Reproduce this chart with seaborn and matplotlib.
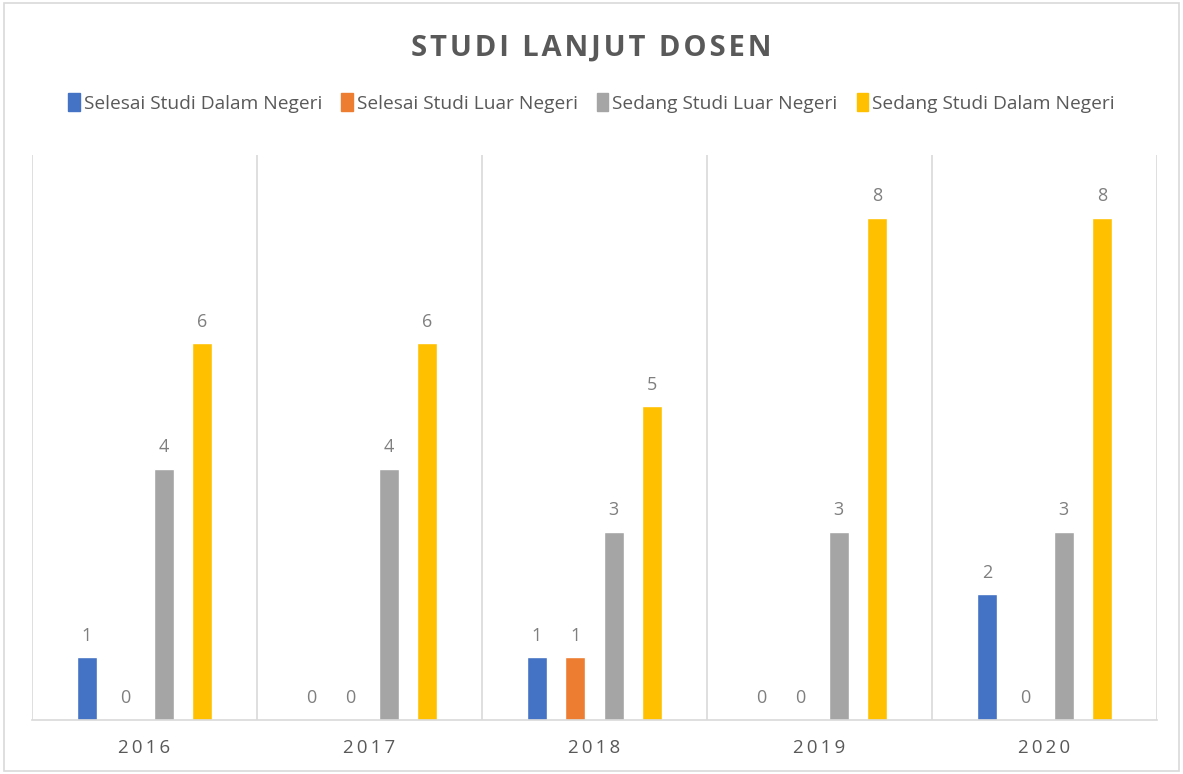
import matplotlib
matplotlib.use("Agg")
import matplotlib.pyplot as plt
import seaborn as sns
import pandas as pd

# data
years = ["2016", "2017", "2018", "2019", "2020"]
series = ["Selesai Studi Dalam Negeri", "Selesai Studi Luar Negeri",
          "Sedang Studi Luar Negeri", "Sedang Studi Dalam Negeri"]
selesai_dalam = [1, 0, 1, 0, 2]
selesai_luar = [0, 0, 1, 0, 0]
sedang_luar = [4, 4, 3, 3, 3]
sedang_dalam = [6, 6, 5, 8, 8]
colors = ["#4472C4", "#ED7D31", "#A5A5A5", "#FFC000"]

rows = []
for name, vals in zip(series, [selesai_dalam, selesai_luar, sedang_luar, sedang_dalam]):
    for y, v in zip(years, vals):
        rows.append({"Tahun": y, "Status": name, "Jumlah": v})
df = pd.DataFrame(rows)

sns.set_style("white")
plt.rcParams["font.family"] = ["Open Sans", "DejaVu Sans"]

fig = plt.figure(figsize=(11.83, 7.74), dpi=100)
ax = fig.add_axes([0.027, 0.0698, 0.951, 0.73])

sns.barplot(data=df, x="Tahun", y="Jumlah", hue="Status", hue_order=series,
            order=years, palette=colors, width=0.684, gap=0.48,
            saturation=1, legend=False, ax=ax)

for cont in ax.containers:
    ax.bar_label(cont, fmt="%d", padding=9, fontsize=13, color="#7F7F7F")

ax.set_ylim(0, 9)
ax.set_xlim(-0.5, 4.5)
ax.set_yticks([])
ax.set_xlabel("")
ax.set_ylabel("")
ax.set_xticks(range(len(years)))
ax.set_xticklabels(["\u2009".join(y) for y in years], fontsize=13.5, color="#595959")
ax.tick_params(axis="x", length=0, pad=14)
ax.set_xticks([i - 0.5 for i in range(len(years) + 1)], minor=True)
ax.tick_params(axis="x", which="minor", length=0)
ax.grid(which="minor", axis="x", color="#D9D9D9", linewidth=1.2)
ax.set_axisbelow(True)
for s in ["left", "right", "top"]:
    ax.spines[s].set_visible(False)
ax.spines["bottom"].set_color("#D9D9D9")
ax.spines["bottom"].set_linewidth(1.2)

handles = [plt.Rectangle((0, 0), 1, 1, color=c) for c in colors]
fig.legend(handles, series, loc="center", bbox_to_anchor=(0.5, 0.867), ncol=4,
           frameon=False, fontsize=13.8, handlelength=0.6, handleheight=1.1,
           handletextpad=0.2, columnspacing=1.0, labelcolor="#595959")

fig.text(0.5, 0.938, "\u200a".join("STUDI LANJUT DOSEN"), ha="center", va="center",
         fontsize=21, fontweight="bold", color="#595959")

fig.patches.append(plt.Rectangle((0.003, 0.004), 0.994, 0.992, transform=fig.transFigure,
                                 fill=False, edgecolor="#D9D9D9", linewidth=1.2))

fig.savefig("out.png", dpi=100, facecolor="white")
